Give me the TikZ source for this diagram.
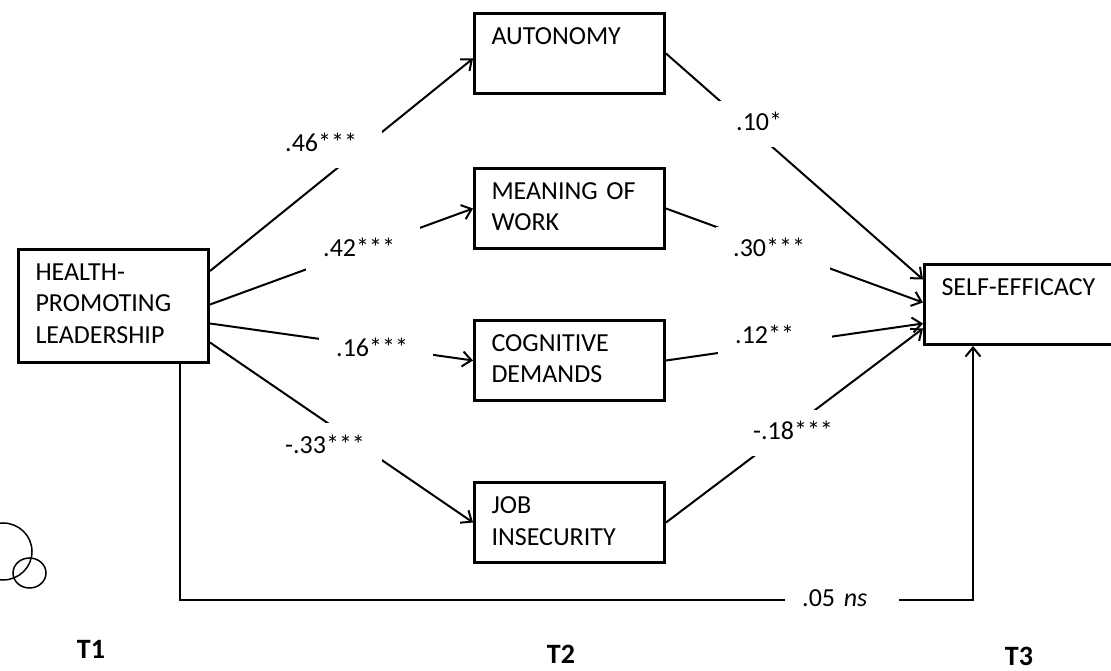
\documentclass[tikz,border=0pt]{standalone}
\usepackage{fontspec}
\setmainfont{Carlito}
\usepackage{tikz}
\usetikzlibrary{arrows.meta,positioning}

\begin{document}
\begin{tikzpicture}[x=1pt,y=1pt,font=\fontsize{26pt}{31.5pt}\selectfont,
    >={Straight Barb[length=9pt,width=15pt]}]
  \tikzset{var/.style={draw,line width=3pt,inner xsep=17pt,inner ysep=8pt,text width=156pt,
      text height=23pt,text depth=41pt,align=left}};
  \tikzset{coef/.style={fill=white,anchor=base west,inner xsep=17pt,inner ysep=0pt,
      text width=80pt,text height=30pt,text depth=16pt,align=left}};
  \tikzset{conn/.style={line width=2pt,->}};
  \tikzset{wave/.style={font=\fontsize{28pt}{30pt}\selectfont\bfseries,anchor=base}};
  \useasboundingbox (0,0) rectangle (1111,670);
  \node[var,text depth=74pt,anchor=north west] (hpl) at (17,422) {HEALTH-\\PROMOTING\\LEADERSHIP};
  \node[var,anchor=north west] (aut) at (473,658) {AUTONOMY};
  \node[var,below=72pt of aut] (mow) {MEANING OF\\WORK};
  \node[var,below=69pt of mow] (cog) {COGNITIVE\\DEMANDS};
  \node[var,below=79pt of cog] (job) {JOB\\INSECURITY};
  \node[var,text width=200pt,anchor=north west] (se) at (923,407) {SELF-EFFICACY};
  \draw[conn] ([yshift=35pt]hpl.east) -- ([yshift=-5pt]aut.west);
  \draw[conn] ([yshift=1.5pt]hpl.east) -- (mow.west);
  \draw[conn] ([yshift=-17.5pt]hpl.east) -- (cog.west);
  \draw[conn] ([yshift=-36.5pt]hpl.east) -- (job.west);
  \draw[conn] (aut.east) -- ([yshift=25pt]se.west);
  \draw[conn] (mow.east) -- ([yshift=2pt]se.west);
  \draw[conn] (cog.east) -- ([yshift=-19pt]se.west);
  \draw[conn] (job.east) -- ([yshift=-24pt]se.west);
  \draw[conn] ([xshift=163pt]hpl.south west) -- ++(0,-236) -| ([xshift=50pt]se.south west);
  \node[coef] (hA) at (268,518) {.46***};
  \node[coef] (hM) at (306,413) {.42***};
  \node[coef] (hC) at (319,313) {.16***};
  \node[coef] (hJ) at (268,217) {\mbox{-.33***}};
  \node[coef] (aS) at (719,539) {.10*};
  \node[coef] (mS) at (716,413) {.30***};
  \node[coef] (cS) at (718,326) {.12**};
  \node[coef] (jS) at (736,230) {\mbox{-.18***}};
  \node[coef] (hS) at (785,64) {.05 \textit{ns}};
  \node[wave] (t1) at (91,12) {T1};
  \node[wave] (t2) at (561,7) {T2};
  \node[wave] (t3) at (1019,5) {T3};
  \draw[line width=1.5pt] (3,118.5) ellipse [x radius=29,y radius=28.5];
  \draw[line width=1.5pt] (29.5,97) ellipse [x radius=16.5,y radius=15];
\end{tikzpicture}
\end{document}
